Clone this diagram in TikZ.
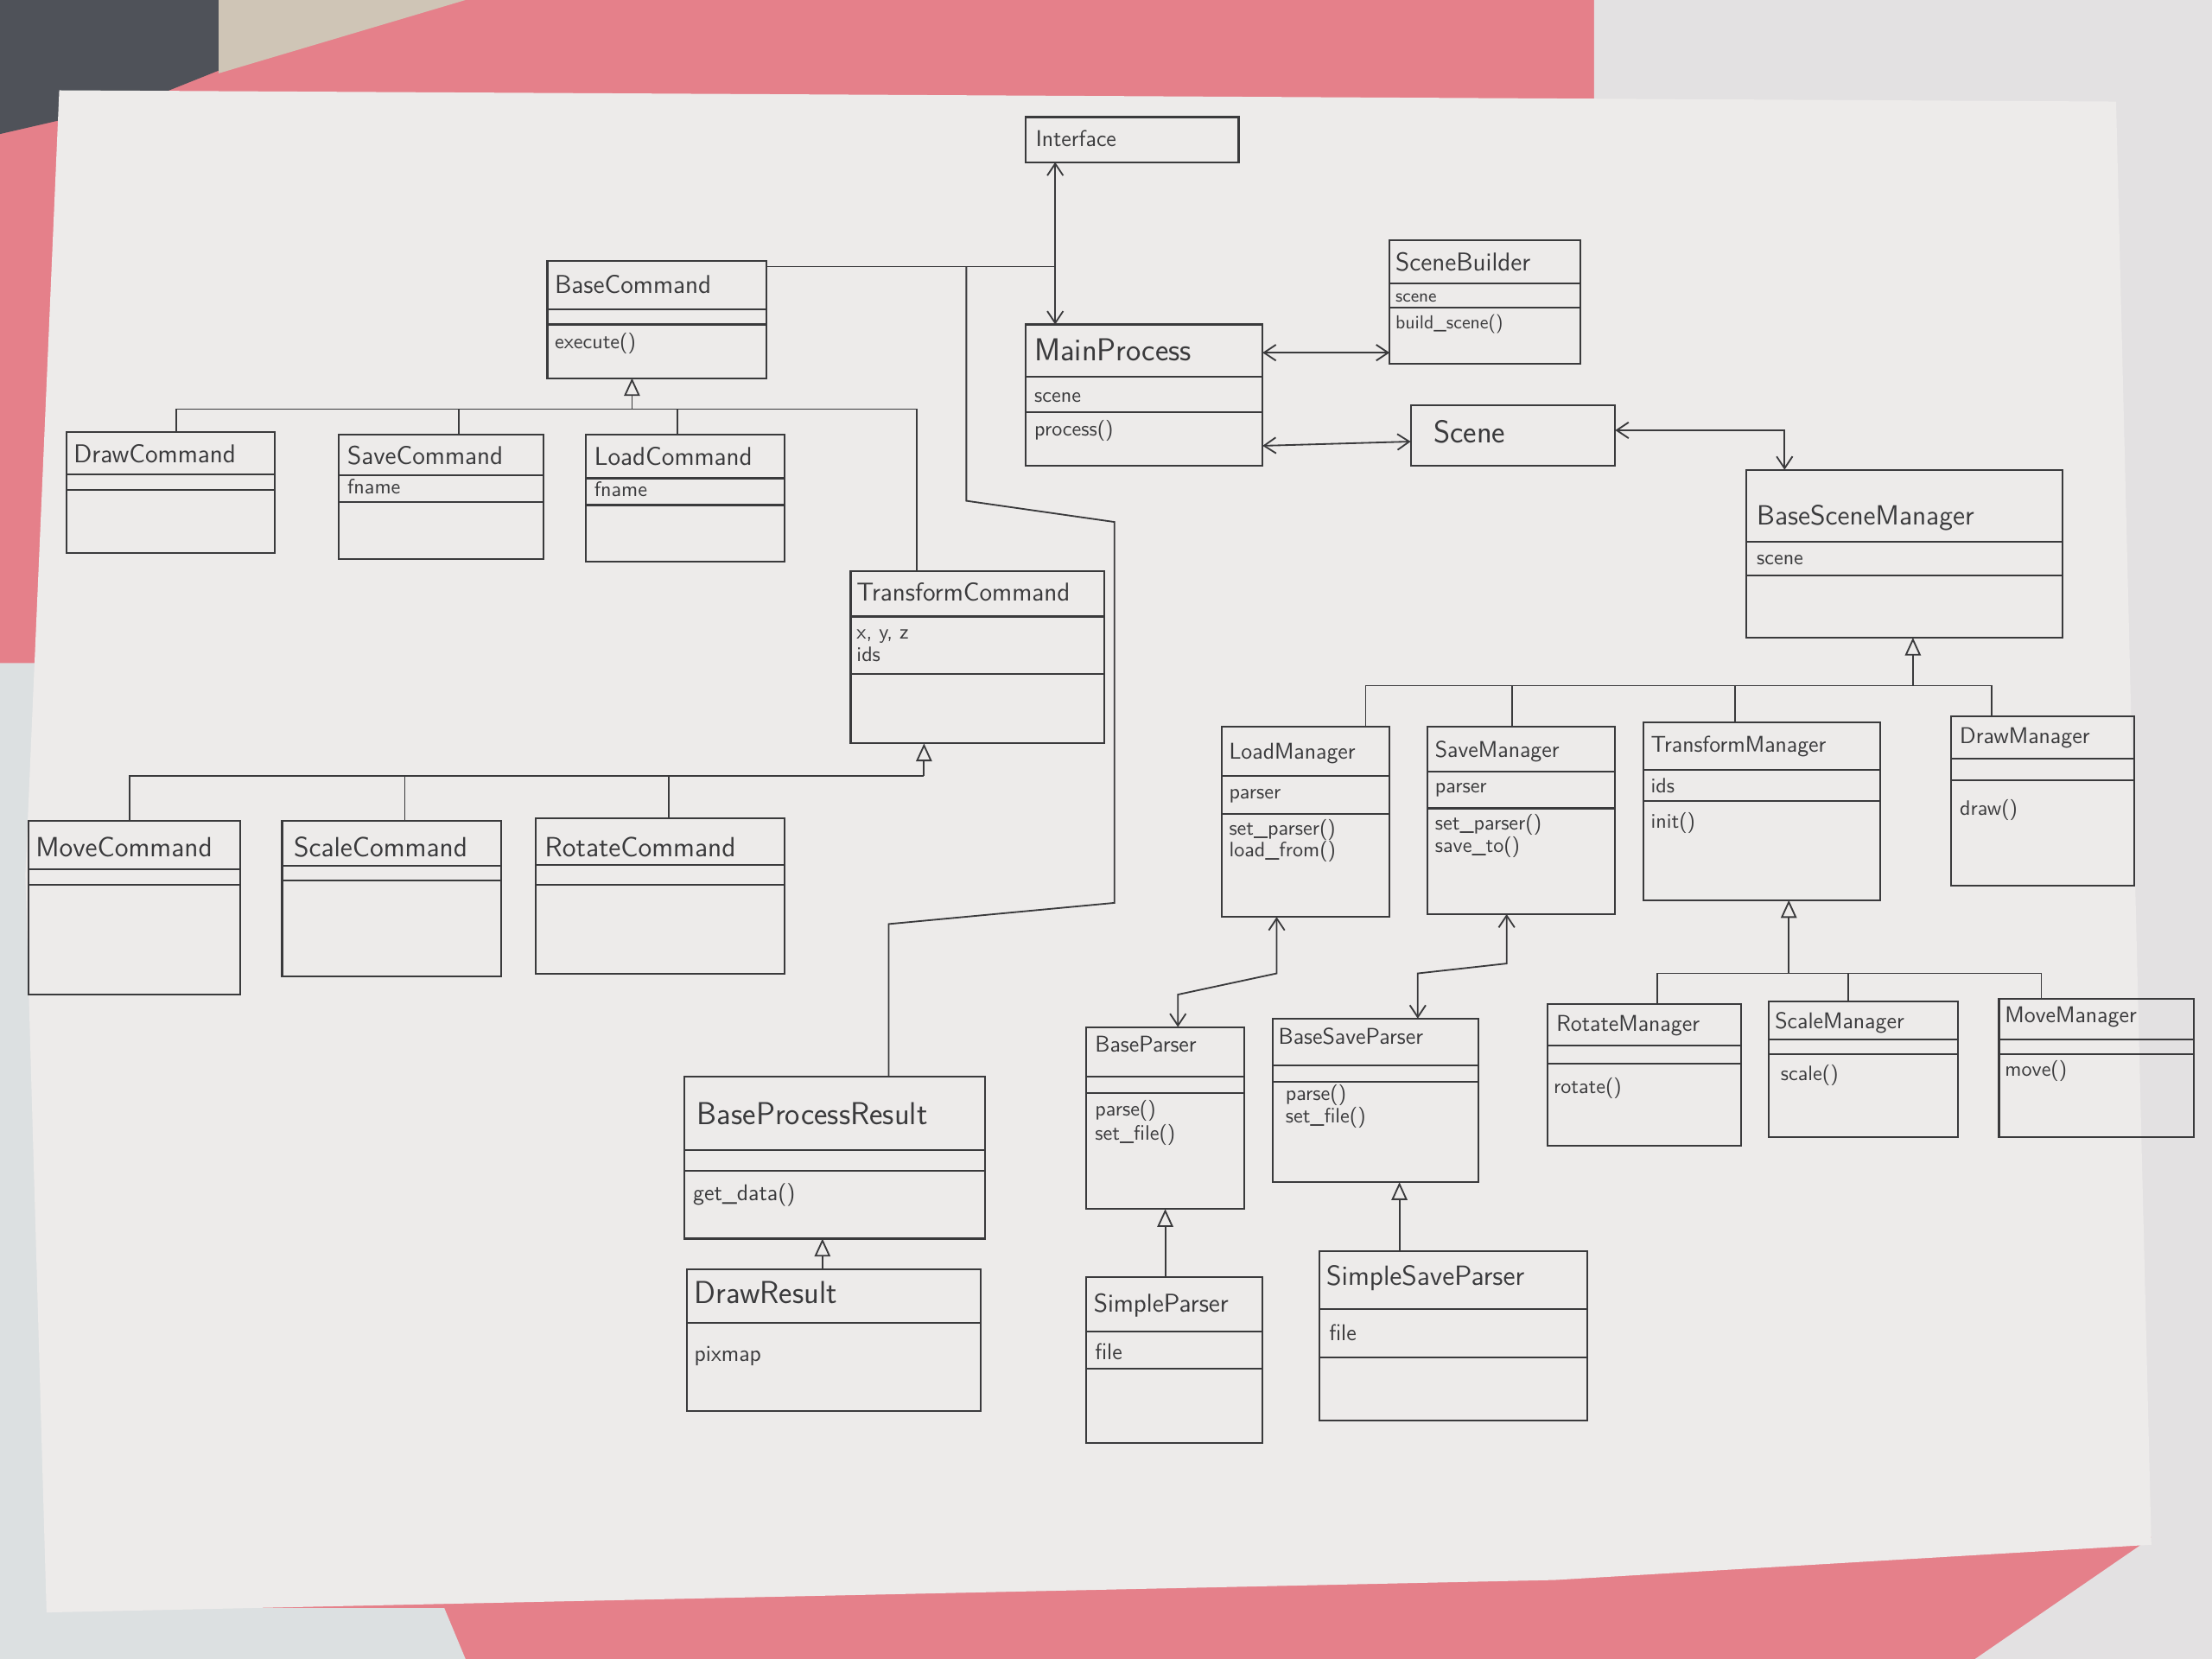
\documentclass[tikz,border=0pt]{standalone}
\usetikzlibrary{arrows.meta,calc}
\definecolor{ink}{HTML}{3A3A3C}
\definecolor{paper}{HTML}{EDEBEA}
\definecolor{folder}{HTML}{E5808A}
\definecolor{sidepaper}{HTML}{E3E1E2}
\definecolor{leftpaper}{HTML}{DCE0E1}
\definecolor{cloth}{HTML}{4F5259}
\definecolor{beige}{HTML}{CFC5B6}
\newcommand\cls[5]{%
  \pgfmathsetmacro\cw{(#4-#2)*0.025}%
  \pgfmathsetmacro\ch{(#5-#3)*0.025}%
  \node[clsbox, minimum width=\cw cm, minimum height=\ch cm] (#1) at ({(#2+#4)/2},{(#3+#5)/2}) {};}
\newcommand\sepl[2]{\draw[sepline] (#1.west |- 0,#2) -- (#1.east |- 0,#2);}
\begin{document}
\begin{tikzpicture}[x=0.025cm,y=-0.025cm,
  clsbox/.style={draw=ink, line width=0.9pt, inner sep=0pt, outer sep=0pt},
  sepline/.style={draw=ink, line width=0.9pt},
  ctitle/.style={anchor=base west, font=\sffamily\fontsize{13}{15}\selectfont, text=ink, inner sep=0pt},
  cbig/.style={ctitle, font=\sffamily\fontsize{16}{18}\selectfont},
  csmall/.style={ctitle, font=\sffamily\fontsize{11.5}{13}\selectfont},
  cmem/.style={anchor=base west, font=\sffamily\fontsize{10.5}{12}\selectfont, text=ink, inner sep=0pt},
  link/.style={draw=ink, line width=0.8pt},
  both/.style={link, {Straight Barb[length=6pt,width=8pt]}-{Straight Barb[length=6pt,width=8pt]}},
  inherit/.style={link, -{Triangle[open, length=9pt, width=8pt, fill=paper]}},
]
\useasboundingbox (0,0) rectangle (1568,1176);
% background: folder, side papers, sheet
\fill[folder] (0,0) rectangle (1568,1176);
\fill[sidepaper] (1130,0) -- (1568,0) -- (1568,1176) -- (1400,1176) -- (1525,1090) -- (1130,70) -- cycle;
\fill[leftpaper] (0,470) -- (40,470) -- (40,1140) -- (315,1140) -- (330,1176) -- (0,1176) -- cycle;
\fill[cloth] (0,0) -- (155,0) -- (155,50) -- (100,72) -- (0,95) -- cycle;
\fill[beige] (155,0) -- (330,0) -- (155,52) -- cycle;
\fill[paper] (42,64) -- (1500,72) -- (1525,1095) -- (1102,1120) -- (33,1143) -- (18,620) -- cycle;

% ---------- classes ----------
\cls{iface}{727}{83}{878}{115}
\node[csmall] (iface-t) at (734,104) {Interface};

\cls{bcmd}{388}{185}{543}{268}
\sepl{bcmd}{219}\sepl{bcmd}{230}
\node[ctitle] (bcmd-t) at (393,208) {BaseCommand};
\node[cmem] (bcmd-m1) at (393,247) {execute()};

\cls{mp}{727}{230}{895}{330}
\sepl{mp}{267}\sepl{mp}{292}
\node[cbig] (mp-t) at (733,256) {MainProcess};
\node[cmem] (mp-a1) at (733,285) {scene};
\node[cmem] (mp-m1) at (733,309) {process()};

\cls{sb}{985}{170}{1120}{258}
\sepl{sb}{201}\sepl{sb}{218}
\node[ctitle] (sb-t) at (989,192) {SceneBuilder};
\node[cmem, font=\sffamily\fontsize{9}{10}\selectfont] (sb-a1) at (989,214) {scene};
\node[cmem, font=\sffamily\fontsize{9.5}{11}\selectfont] (sb-m1) at (989,233) {build\_scene()};

\cls{scene}{1000}{287}{1145}{330}
\node[cbig] (scene-t) at (1016,314) {Scene};

\cls{bsm}{1238}{333}{1462}{452}
\sepl{bsm}{384}\sepl{bsm}{408}
\node[ctitle, font=\sffamily\fontsize{14}{16}\selectfont] (bsm-t) at (1245,372) {BaseSceneManager};
\node[cmem] (bsm-a1) at (1245,400) {scene};

\cls{dcmd}{47}{306}{195}{392}
\sepl{dcmd}{336}\sepl{dcmd}{347}
\node[ctitle] (dcmd-t) at (52,328) {DrawCommand};

\cls{scmd}{240}{308}{385}{396}
\sepl{scmd}{337}\sepl{scmd}{356}
\node[ctitle] (scmd-t) at (246,329) {SaveCommand};
\node[cmem] (scmd-a1) at (246,350) {fname};

\cls{lcmd}{415}{308}{556}{398}
\sepl{lcmd}{339}\sepl{lcmd}{358}
\node[ctitle] (lcmd-t) at (421,330) {LoadCommand};
\node[cmem] (lcmd-a1) at (421,352) {fname};

\cls{tcmd}{603}{405}{783}{527}
\sepl{tcmd}{437}\sepl{tcmd}{478}
\node[ctitle] (tcmd-t) at (607,426) {TransformCommand};
\node[cmem] (tcmd-a1) at (607,453) {x, y, z};
\node[cmem] (tcmd-a2) at (607,469) {ids};

\cls{mvcmd}{20}{582}{170}{705}
\sepl{mvcmd}{616}\sepl{mvcmd}{627}
\node[ctitle, font=\sffamily\fontsize{14}{16}\selectfont] (mvcmd-t) at (25,607) {MoveCommand};

\cls{sccmd}{200}{582}{355}{692}
\sepl{sccmd}{614}\sepl{sccmd}{624}
\node[ctitle, font=\sffamily\fontsize{14}{16}\selectfont] (sccmd-t) at (208,607) {ScaleCommand};

\cls{rtcmd}{380}{580}{556}{690}
\sepl{rtcmd}{613}\sepl{rtcmd}{627}
\node[ctitle, font=\sffamily\fontsize{14}{16}\selectfont] (rtcmd-t) at (386,607) {RotateCommand};

\cls{bpr}{485}{763}{698}{878}
\sepl{bpr}{815}\sepl{bpr}{830}
\node[cbig] (bpr-t) at (494,797) {BaseProcessResult};
\node[cmem, font=\sffamily\fontsize{11.5}{13}\selectfont] (bpr-m1) at (491,851) {get\_data()};

\cls{dres}{487}{900}{695}{1000}
\sepl{dres}{938}
\node[cbig] (dres-t) at (492,924) {DrawResult};
\node[cmem, font=\sffamily\fontsize{11.5}{13}\selectfont] (dres-a1) at (492,965) {pixmap};

\cls{lm}{866}{515}{985}{650}
\sepl{lm}{550}\sepl{lm}{577}
\node[csmall] (lm-t) at (871,538) {LoadManager};
\node[cmem] (lm-a1) at (871,566) {parser};
\node[cmem] (lm-m1) at (871,592) {set\_parser()};
\node[cmem] (lm-m2) at (871,607) {load\_from()};

\cls{sm}{1012}{515}{1145}{648}
\sepl{sm}{547}\sepl{sm}{573}
\node[csmall] (sm-t) at (1017,537) {SaveManager};
\node[cmem] (sm-a1) at (1017,562) {parser};
\node[cmem] (sm-m1) at (1017,588) {set\_parser()};
\node[cmem] (sm-m2) at (1017,604) {save\_to()};

\cls{tm}{1165}{512}{1333}{638}
\sepl{tm}{546}\sepl{tm}{568}
\node[csmall] (tm-t) at (1170,533) {TransformManager};
\node[cmem] (tm-a1) at (1170,562) {ids};
\node[cmem] (tm-m1) at (1170,587) {init()};

\cls{dm}{1383}{508}{1513}{628}
\sepl{dm}{538}\sepl{dm}{553}
\node[csmall] (dm-t) at (1389,527) {DrawManager};
\node[cmem] (dm-m1) at (1389,578) {draw()};

\cls{rm}{1097}{712}{1234}{812}
\sepl{rm}{741}\sepl{rm}{754}
\node[csmall] (rm-t) at (1103,731) {RotateManager};
\node[cmem] (rm-m1) at (1101,775) {rotate()};

\cls{scm}{1254}{710}{1388}{806}
\sepl{scm}{737}\sepl{scm}{747}
\node[csmall] (scm-t) at (1258,729) {ScaleManager};
\node[cmem] (scm-m1) at (1262,766) {scale()};

\cls{mm}{1417}{708}{1555}{806}
\sepl{mm}{737}\sepl{mm}{747}
\node[csmall] (mm-t) at (1421,725) {MoveManager};
\node[cmem] (mm-m1) at (1421,763) {move()};

\cls{bp}{770}{728}{882}{857}
\sepl{bp}{763}\sepl{bp}{775}
\node[csmall] (bp-t) at (776,746) {BaseParser};
\node[cmem] (bp-m1) at (776,791) {parse()};
\node[cmem] (bp-m2) at (776,808) {set\_file()};

\cls{bsp}{902}{722}{1048}{838}
\sepl{bsp}{755}\sepl{bsp}{767}
\node[csmall] (bsp-t) at (906,740) {BaseSaveParser};
\node[cmem] (bsp-m1) at (911,780) {parse()};
\node[cmem] (bsp-m2) at (911,796) {set\_file()};

\cls{spar}{770}{905}{895}{1023}
\sepl{spar}{944}\sepl{spar}{970}
\node[ctitle] (spar-t) at (775,930) {SimpleParser};
\node[cmem, font=\sffamily\fontsize{11.5}{13}\selectfont] (spar-a1) at (776,964) {file};

\cls{sspar}{935}{887}{1125}{1007}
\sepl{sspar}{928}\sepl{sspar}{962}
\node[ctitle, font=\sffamily\fontsize{14}{16}\selectfont] (sspar-t) at (940,911) {SimpleSaveParser};
\node[cmem, font=\sffamily\fontsize{11.5}{13}\selectfont] (sspar-a1) at (942,950) {file};

% ---------- associations ----------
\draw[both] (iface.south -| 748,0) -- (mp.north -| 748,0);
\coordinate (j1) at (748,189);
\coordinate (j2) at (685,189);
\draw[link] (bcmd.east |- j1) -- (j1);
\draw[link] (j2) -- (685,355) -- (790,370) -- (790,640) -- (630,655) -- (bpr.north -| 630,0);
\draw[both] (mp.east |- 0,250) -- (sb.west |- 0,250);
\draw[both] (mp.east |- 0,316) -- (scene.west |- 0,313);
\draw[both] (scene.east |- 0,305) -- (1265,305) -- (bsm.north -| 1265,0);
\draw[both] (lm.south -| 905,0) -- (905,690) -- (835,705) -- (bp.north -| 835,0);
\draw[both] (sm.south -| 1068,0) -- (1068,683) -- (1005,690) -- (bsp.north -| 1005,0);

% ---------- inheritance ----------
\coordinate (bc-bus) at (448,290);
\draw[inherit] (bc-bus) -- (bcmd.south -| bc-bus);
\draw[link] (dcmd.north -| 125,0) -- (125,290) -- (650,290) -- (tcmd.north -| 650,0);
\draw[link] (scmd.north -| 325,0) -- (325,290);
\draw[link] (lcmd.north -| 480,0) -- (480,290);

\coordinate (tc-bus) at (655,550);
\draw[inherit] (tc-bus) -- (tcmd.south -| tc-bus);
\draw[link] (mvcmd.north -| 92,0) -- (92,550) -- (tc-bus);
\draw[link] (sccmd.north -| 287,0) -- (287,550);
\draw[link] (rtcmd.north -| 474,0) -- (474,550);

\coordinate (bsm-bus) at (1356,486);
\draw[inherit] (bsm-bus) -- (bsm.south -| bsm-bus);
\draw[link] (lm.north -| 968,0) -- (968,486) -- (1412,486) -- (dm.north -| 1412,0);
\draw[link] (sm.north -| 1072,0) -- (1072,486);
\draw[link] (tm.north -| 1230,0) -- (1230,486);

\coordinate (tm-bus) at (1268,690);
\draw[inherit] (tm-bus) -- (tm.south -| tm-bus);
\draw[link] (rm.north -| 1175,0) -- (1175,690) -- (1447,690) -- (mm.north -| 1447,0);
\draw[link] (scm.north -| 1310,0) -- (1310,690);

\draw[inherit] (spar.north -| 826,0) -- (bp.south -| 826,0);
\draw[inherit] (sspar.north -| 992,0) -- (bsp.south -| 992,0);
\draw[inherit] (dres.north -| 583,0) -- (bpr.south -| 583,0);
\end{tikzpicture}
\end{document}
